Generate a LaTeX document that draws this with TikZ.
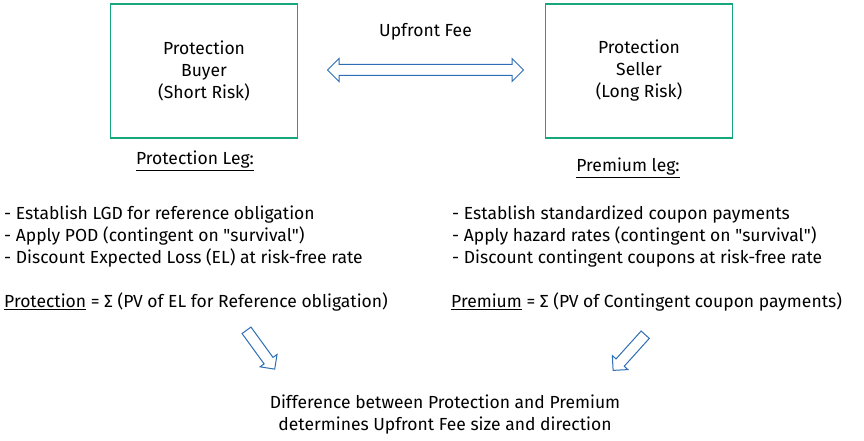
\documentclass[tikz,border=0pt]{standalone}
\usepackage{fontspec}
\setmainfont{Fira Sans}
\usetikzlibrary{positioning, shapes.arrows}
\definecolor{boxteal}{RGB}{24,167,125}
\definecolor{arrowblue}{RGB}{46,110,182}
\tikzset{party/.style={draw=boxteal,line width=1.3pt,minimum width=187pt,minimum height=134pt,align=center}}
\tikzset{feearrow/.style={double arrow,draw=arrowblue,line width=1pt,fill=white,inner xsep=0pt,inner ysep=5pt,double arrow head extend=6pt,minimum height=196pt}}
\tikzset{downarrow/.style={single arrow,draw=arrowblue,line width=1pt,fill=white,inner xsep=0pt,inner ysep=5pt,single arrow head extend=5pt,minimum height=48pt}}

\begin{document}
\begin{tikzpicture}[
                x=1pt, y=-1pt,
                every node/.style={font=\fontsize{17.5}{22}\selectfont,inner sep=0pt}
            ]
                \useasboundingbox (0,0) rectangle (864,441);
                \node[party](buyer) at (204,71) {Protection\\Buyer\\(Short Risk)};
                \node[party](seller) at (639,71) {Protection\\Seller\\(Long Risk)};

                \node[feearrow](fee) at (425.5,70) {};
                \node[above=24pt of fee](feetext) {Upfront Fee};

                \node(protleg) at (195,161) {\underline{Protection Leg:}};
                \node(premleg) at (628,168) {\underline{Premium leg:}};

                \node[anchor=west,align=left](protsteps) at (4,237) {- Establish LGD for reference obligation\\- Apply POD (contingent on \textquotedbl survival\textquotedbl)\\- Discount Expected Loss (EL) at risk-free rate};
                \node[anchor=west](protsum) at (4,302) {\underline{Protection} = Σ (PV of EL for Reference obligation)};
                \node[anchor=west,align=left](premsteps) at (452,237) {- Establish standardized coupon payments\\- Apply hazard rates (contingent on \textquotedbl survival\textquotedbl)\\- Discount contingent coupons at risk-free rate};
                \node[anchor=west](premsum) at (451,302) {\underline{Premium} = Σ (PV of Contingent coupon payments)};

                \node[downarrow,rotate=-54](downL) at (259,347.5) {};
                \node[downarrow,rotate=-132](downR) at (631,350.5) {};

                \node[align=center](result) at (445,415) {Difference between Protection and Premium\\determines Upfront Fee size and direction};
            \end{tikzpicture}
\end{document}
